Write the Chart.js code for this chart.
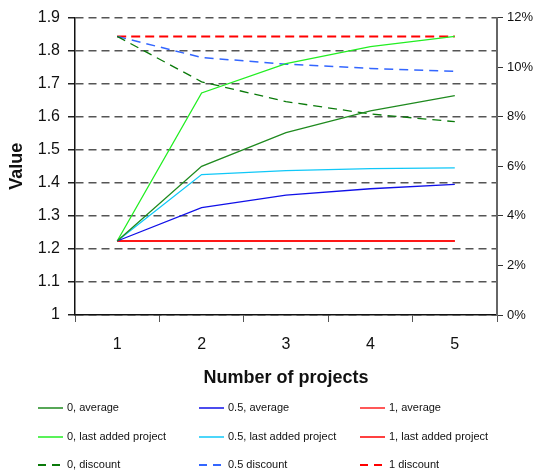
<!DOCTYPE html>
<html>
<head>
<meta charset="utf-8">
<script src="https://cdn.jsdelivr.net/npm/chart.js@4/dist/chart.umd.min.js"></script>
<style>
  html, body { margin: 0; padding: 0; background: #fff; }
  #wrap { width: 536px; height: 473px; position: relative; }
</style>
</head>
<body>
<div id="wrap"><canvas id="chart"></canvas></div>
<script>
// ─── DATA ─────────────────────────────────────────────────────────────────────
const projects = ["1", "2", "3", "4", "5"]

// left axis (Value)
const avg0   = [1.224, 1.450, 1.552, 1.618, 1.664]
const avg05  = [1.224, 1.325, 1.363, 1.382, 1.395]
const avg1   = [1.224, 1.224, 1.224, 1.224, 1.224]
const last0  = [1.224, 1.672, 1.761, 1.812, 1.843]
const last05 = [1.224, 1.425, 1.437, 1.443, 1.445]
const last1  = [1.224, 1.224, 1.224, 1.224, 1.224]

// right axis (discount, %)
const disc0  = [11.24, 9.41, 8.61, 8.11, 7.80]
const disc05 = [11.24, 10.39, 10.12, 9.95, 9.83]
const disc1  = [11.24, 11.24, 11.24, 11.24, 11.24]

const valueTicks = [1, 1.1, 1.2, 1.3, 1.4, 1.5, 1.6, 1.7, 1.8, 1.9]
const pctTicks   = [0, 2, 4, 6, 8, 10, 12]

const FONT = "'Liberation Sans', Arial, sans-serif"

function line(label, data, color, width, dash, axis) {
  return {
    label, data,
    borderColor: color,
    backgroundColor: color,
    borderWidth: width,
    borderDash: dash || [],
    pointRadius: 0,
    tension: 0,
    yAxisID: axis || "y",
  }
}

const datasets = [
  line("0, average",                avg0,   "#1f8a1f", 1.3),
  line("0.5, average",              avg05,  "#1010e8", 1.3),
  line("1, average",                avg1,   "#ff2020", 1.3),
  line("0, last added project",     last0,  "#22ee22", 1.3),
  line("0.5, last added project",   last05, "#10c8f8", 1.3),
  line("1, last added project",     last1,  "#ff0000", 2),
  line("0, discount",               disc0,  "#0a7a0a", 1.3, [9, 6], "y1"),
  line("0.5 discount",              disc05, "#3366ff", 1.5, [9, 6], "y1"),
  line("1 discount",                disc1,  "#ff0000", 2,   [9, 5], "y1"),
]

// ─── LEGEND (3 x 3 grid under the chart) ──────────────────────────────────────
const legendGrid = {
  id: "legendGrid",
  afterDraw(chart) {
    const ctx = chart.ctx
    const cols = [38, 199, 360]
    const rows = [408, 437, 465]
    ctx.save()
    ctx.font = "11px " + FONT
    ctx.textBaseline = "middle"
    ctx.fillStyle = "#111"
    chart.data.datasets.forEach((ds, i) => {
      const x = cols[i % 3], y = rows[Math.floor(i / 3)]
      ctx.strokeStyle = ds.borderColor
      ctx.lineWidth = ds.borderDash.length ? 2 : 1.5
      ctx.setLineDash(ds.borderDash.length ? [8, 6] : [])
      ctx.beginPath()
      ctx.moveTo(x, y)
      ctx.lineTo(x + 25, y)
      ctx.stroke()
      ctx.setLineDash([])
      ctx.fillText(ds.label, x + 29, y)
    })
    ctx.restore()
  }
}

// ─── CHART ────────────────────────────────────────────────────────────────────
new Chart(document.getElementById("chart"), {
  type: "line",
  data: { labels: projects, datasets },
  options: {
    responsive: true,
    maintainAspectRatio: false,
    animation: false,
    layout: { padding: { top: 17, bottom: 80, left: 6, right: 0 } },
    plugins: {
      legend:  { display: false },
      tooltip: { enabled: false },
    },
    scales: {
      x: {
        offset: true,
        grid: { offset: true, drawOnChartArea: false, color: "#555", tickLength: 7 },
        border: { color: "#111", width: 1.5 },
        ticks: { color: "#111", font: { family: FONT, size: 16 }, padding: 13 },
        title: { display: true, text: "Number of projects", color: "#111",
                 font: { family: FONT, size: 18, weight: "bold" }, padding: { top: 16 } },
        afterFit(s) { s.height = 78 },
      },
      y: {
        min: 1, max: 1.9,
        afterBuildTicks(s) { s.ticks = valueTicks.map(v => ({ value: v })) },
        grid: { color: "#555", lineWidth: 1.5, tickLength: 7, tickColor: "#222",
                tickBorderDash: [] },
        border: { color: "#111", width: 1.5, dash: [8, 5] },
        ticks: { color: "#111", font: { family: FONT, size: 16 }, padding: 8,
                 callback: v => String(Math.round(v * 10) / 10) },
        title: { display: true, text: "Value", color: "#111",
                 font: { family: FONT, size: 18, weight: "bold" }, padding: 0 },
        afterFit(s) { s.width = 69 },
      },
      y1: {
        position: "right",
        min: 0, max: 12,
        afterBuildTicks(s) { s.ticks = pctTicks.map(v => ({ value: v })) },
        grid: { drawOnChartArea: false, color: "#333", tickLength: 6 },
        border: { color: "#666", width: 2 },
        ticks: { color: "#111", font: { family: FONT, size: 13 }, padding: 4,
                 callback: v => v + "%" },
        afterFit(s) { s.width = 39 },
      },
    },
  },
  plugins: [legendGrid],
})
</script>
</body>
</html>
